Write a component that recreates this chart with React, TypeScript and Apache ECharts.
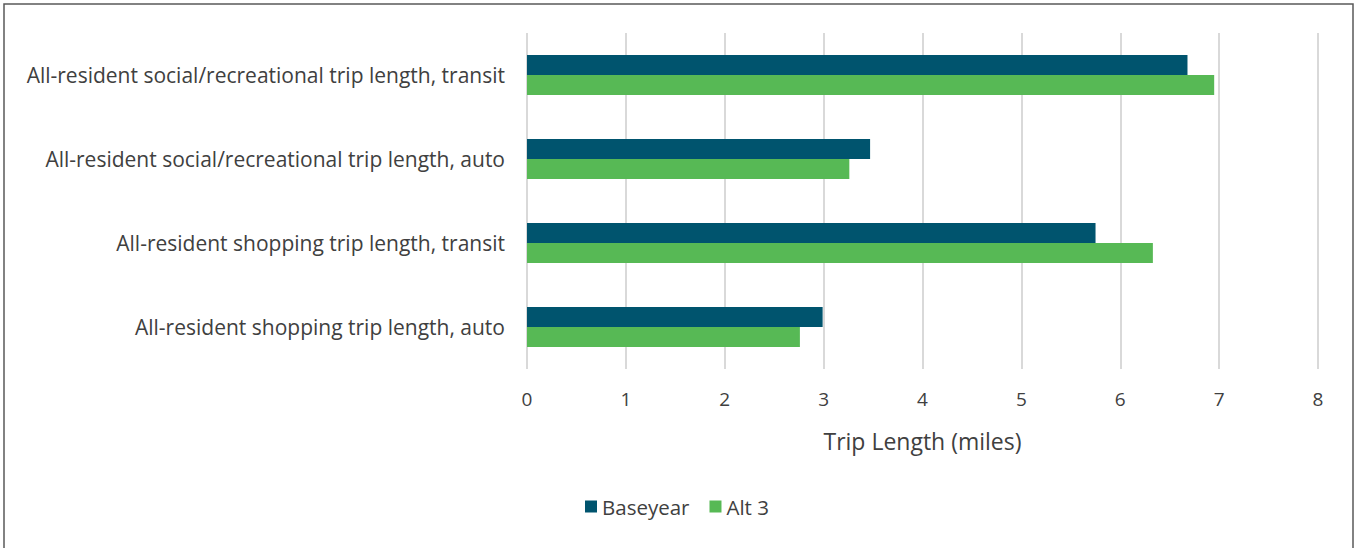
import React, { useEffect, useRef } from "react";
import * as echarts from "echarts";

// Trip categories, bottom to top along the category axis
const categories = [
  "All-resident shopping trip length, auto",
  "All-resident shopping trip length, transit",
  "All-resident social/recreational trip length, auto",
  "All-resident social/recreational trip length, transit",
];

const baseyear = [2.99, 5.75, 3.47, 6.68];
const alt3 = [2.76, 6.33, 3.26, 6.95];

const xTicks = { min: 0, max: 8, interval: 1 };

const FONT = "'Open Sans', 'Noto Sans', sans-serif";

export default function App() {
  const ref = useRef<HTMLDivElement>(null);

  useEffect(() => {
    if (!ref.current) return;
    const chart = echarts.init(ref.current, undefined, { renderer: "svg" });
    chart.setOption({
      animation: false,
      textStyle: { fontFamily: FONT },
      grid: { left: 527, right: 36, top: 33, height: 336 },
      graphic: [
        {
          type: "rect",
          shape: { x: 4, y: 4, width: 1349, height: 560 },
          style: { fill: "none", stroke: "#595959", lineWidth: 1.5 },
          silent: true,
        },
      ],
      legend: {
        bottom: 26,
        left: "center",
        itemWidth: 12,
        itemHeight: 12,
        itemGap: 20,
        icon: "rect",
        textStyle: { fontSize: 20.5, color: "#404040", fontFamily: FONT },
        data: ["Baseyear", "Alt 3"],
      },
      xAxis: {
        type: "value",
        min: xTicks.min,
        max: xTicks.max,
        interval: xTicks.interval,
        name: "Trip Length (miles)",
        nameLocation: "middle",
        nameGap: 60,
        nameTextStyle: { fontSize: 23, color: "#404040", fontFamily: FONT },
        axisLine: { show: false },
        axisTick: { show: false },
        axisLabel: { fontSize: 19, color: "#404040", margin: 20, fontFamily: FONT },
        splitLine: { show: true, lineStyle: { color: "#D9D9D9", width: 2 } },
      },
      yAxis: {
        type: "category",
        data: categories,
        axisLine: { show: false },
        axisTick: { show: false },
        axisLabel: { fontSize: 21, color: "#404040", margin: 22, fontFamily: FONT },
      },
      series: [
        {
          name: "Baseyear",
          type: "bar",
          data: baseyear,
          barWidth: 20,
          barGap: "0%",
          itemStyle: { color: "#00546E" },
        },
        {
          name: "Alt 3",
          type: "bar",
          data: alt3,
          barWidth: 20,
          barGap: "0%",
          itemStyle: { color: "#57B955" },
        },
      ],
    });
    return () => chart.dispose();
  }, []);

  return (
    <div
      ref={ref}
      style={{ position: "fixed", left: 0, top: 0, width: 1354, height: 548, background: "#fff" }}
    />
  );
}
